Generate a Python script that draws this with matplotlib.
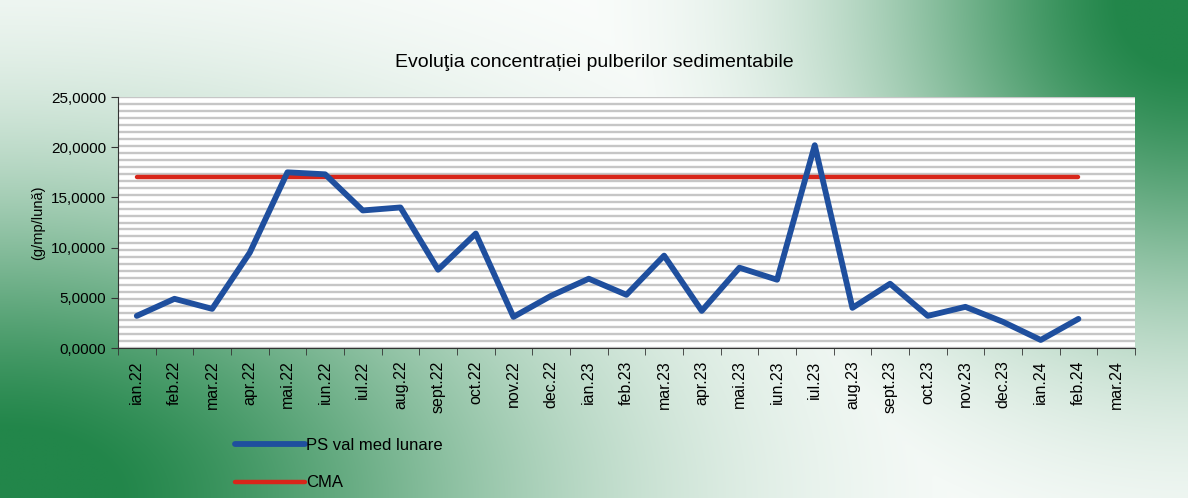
import matplotlib.pyplot as plt
import numpy as np

# date
luni = ['ian.22', 'feb.22', 'mar.22', 'apr.22', 'mai.22', 'iun.22', 'iul.22', 'aug.22',
        'sept.22', 'oct.22', 'nov.22', 'dec.22', 'ian.23', 'feb.23', 'mar.23', 'apr.23',
        'mai.23', 'iun.23', 'iul.23', 'aug.23', 'sept.23', 'oct.23', 'nov.23', 'dec.23',
        'ian.24', 'feb.24', 'mar.24']
ps_val = [3.2, 4.9, 3.9, 9.5, 17.5, 17.3, 13.7, 14.0, 7.8, 11.4, 3.1, 5.2, 6.9, 5.3,
          9.2, 3.7, 8.0, 6.8, 20.2, 4.0, 6.4, 3.2, 4.1, 2.6, 0.8, 2.9]
cma = [17.0] * 26
y_ticks = [0, 5, 10, 15, 20, 25]

plt.rcParams['font.family'] = ['Liberation Sans', 'DejaVu Sans']

fig = plt.figure(figsize=(11.88, 4.98), dpi=100)

# fundal verde in gradient
bg = fig.add_axes([0, 0, 1, 1], zorder=-10)
h, w = 120, 280
u = np.linspace(0, 1, w)[None, :]
v = np.linspace(0, 1, h)[:, None]
bl = np.exp(-((u / 0.45) ** 2 + ((1 - v) / 0.62) ** 2))
tr = np.exp(-(((1 - u) / 0.26) ** 2 + (v / 0.62) ** 2))
t = np.clip(np.maximum(bl, tr) * 1.05, 0, 1)
green = np.array([34, 134, 74]) / 255
img = (1 - t[..., None]) * np.ones(3) + t[..., None] * green
bg.imshow(img, aspect='auto', extent=[0, 1, 0, 1], origin='upper', interpolation='bilinear')
bg.axis('off')

ax = fig.add_axes([0.0993, 0.3012, 0.856, 0.504])
ax.set_facecolor('white')
for yy in np.linspace(0, 25, 37):
    ax.axhline(yy, color='#c6c6c6', linewidth=1.7, zorder=0)

x = np.arange(len(luni))
ax.plot(x[:len(cma)], cma, color='#d8261a', linewidth=3.2, solid_capstyle='round',
        label='CMA', zorder=3)
ax.plot(x[:len(ps_val)], ps_val, color='#1f4f9e', linewidth=4.2, solid_joinstyle='round',
        solid_capstyle='round', label='PS val med lunare', zorder=4)

ax.set_xlim(-0.5, len(luni) - 0.5)
ax.set_ylim(0, 25)
ax.set_yticks(y_ticks)
ax.set_yticklabels([f'{t:.4f}'.replace('.', ',') for t in y_ticks], fontsize=11)
ax.set_xticks(x)
ax.set_xticklabels(luni, rotation=90, fontsize=11.5)
ax.set_xticks(np.arange(len(luni) + 1) - 0.5, minor=True)
ax.tick_params(axis='x', which='major', length=0, pad=9)
ax.tick_params(axis='x', which='minor', length=5, color='#333333')
ax.tick_params(axis='y', length=5, color='#333333')
for s in ['top', 'right']:
    ax.spines[s].set_visible(False)
for s in ['left', 'bottom']:
    ax.spines[s].set_color('#333333')
ax.set_ylabel('(g/mp/lună)', fontsize=10.5)

fig.text(0.5, 0.875, 'Evoluţia concentrației pulberilor sedimentabile', ha='center',
         va='center', fontsize=14)

handles, labels = ax.get_legend_handles_labels()
leg = fig.legend(handles[::-1], labels[::-1], loc='lower left', bbox_to_anchor=(0.185, -0.015),
                 frameon=False, fontsize=12, handlelength=4.2, handletextpad=0.1,
                 labelspacing=1.35)

fig.savefig('out.png', dpi=100)
